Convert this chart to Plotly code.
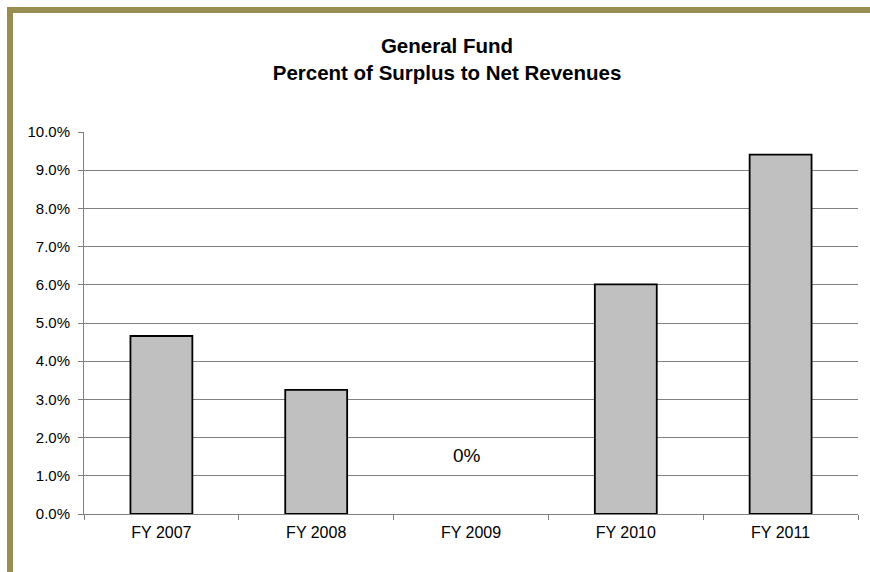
import plotly.graph_objects as go

categories = ["FY 2007", "FY 2008", "FY 2009", "FY 2010", "FY 2011"]
surplus_pct = [4.66, 3.25, 0.0, 6.01, 9.41]
y_ticks = [0, 1, 2, 3, 4, 5, 6, 7, 8, 9, 10]
y_tick_text = [f"{v:.1f}%" for v in y_ticks]

W, H = 870, 572
L, R, T, B = 84, 12, 132, 58
pw, ph = W - L - R, H - T - B

def px_x(x):
    return (x - L) / pw

def px_y(y):
    return (H - B - y) / ph

border = "#998E52"
grid = "#808080"
FONT = "Liberation Sans, Arial, sans-serif"

fig = go.Figure()
fig.add_trace(go.Bar(
    x=categories, y=surplus_pct, width=0.4,
    marker=dict(color="#C0C0C0",
                line=dict(color="#000000",
                          width=[1.8 if v != 0 else 0 for v in surplus_pct])),
    hoverinfo="x+y",
))

zero_idx = surplus_pct.index(0.0)
fig.add_annotation(
    x=categories[zero_idx], y=1.52, text=f"{surplus_pct[zero_idx]:.0f}%",
    showarrow=False, xshift=-4,
    font=dict(family=FONT, size=19, color="#000"),
)

shapes = [
    dict(type="rect", xref="paper", yref="paper",
         x0=px_x(7), x1=px_x(875), y0=px_y(13), y1=px_y(7),
         fillcolor=border, line=dict(width=0), layer="above"),
    dict(type="rect", xref="paper", yref="paper",
         x0=px_x(7), x1=px_x(13), y0=px_y(580), y1=px_y(7),
         fillcolor=border, line=dict(width=0), layer="above"),
]

fig.update_layout(
    width=W, height=H,
    margin=dict(l=L, r=R, t=T, b=B, pad=0),
    paper_bgcolor="white", plot_bgcolor="white",
    showlegend=False,
    shapes=shapes,
    font=dict(family=FONT, size=15, color="#000"),
    title=dict(
        text="<b>General Fund<br>Percent of Surplus to Net Revenues</b>",
        x=447 / W, xanchor="center", xref="container",
        y=1 - 53 / H, yanchor="middle", yref="container",
        font=dict(family=FONT, size=20.5, color="#000"),
    ),
)

fig.update_xaxes(
    showline=True, linecolor=grid, linewidth=1,
    ticks="outside", ticklen=5, tickcolor=grid, tickson="boundaries",
    showgrid=False, ticklabelstandoff=4,
    tickfont=dict(size=16),
)
fig.update_yaxes(
    range=[0, 10], tickvals=y_ticks, ticktext=y_tick_text,
    showline=True, linecolor=grid, linewidth=1,
    ticks="outside", ticklen=5, tickcolor=grid,
    showgrid=True, gridcolor=grid, gridwidth=1,
    zeroline=False, ticklabelstandoff=5,
    tickfont=dict(size=15),
)

fig.write_html("out.html", config={"displayModeBar": False},
               post_script="document.body.style.margin='0';")
